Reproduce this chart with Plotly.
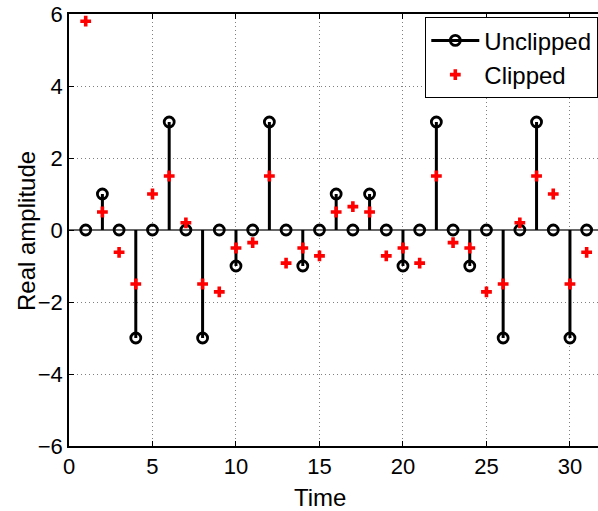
import plotly.graph_objects as go

time = list(range(1, 32))
unclipped = [0, 1, 0, -3, 0, 3, 0, -3, 0, -1, 0, 3, 0, -1, 0, 1,
             0, 1, 0, -1, 0, 3, 0, -1, 0, -3, 0, 3, 0, -3, 0]
clipped = [5.8, 0.5, -0.62, -1.5, 1.0, 1.5, 0.2, -1.5, -1.72, -0.5, -0.35, 1.5,
           -0.92, -0.5, -0.72, 0.5, 0.65, 0.5, -0.72, -0.5, -0.92, 1.5, -0.35, -0.5,
           -1.72, -1.5, 0.2, 1.5, 1.0, -1.5, -0.62]
x_ticks = [0, 5, 10, 15, 20, 25, 30]
y_ticks = [-6, -4, -2, 0, 2, 4, 6]

FONT = "Liberation Sans, Arial, Helvetica, sans-serif"
L, T, B, W, H = 69, 14, 65, 598, 511
PW, PH = W - L, H - T - B

# stems built from data
sx, sy = [], []
for t, v in zip(time, unclipped):
    sx += [t, t, None]
    sy += [0, v, None]

fig = go.Figure()
fig.add_trace(go.Scatter(x=sx, y=sy, mode="lines", line=dict(color="black", width=3),
                         showlegend=False, hoverinfo="skip"))
fig.add_trace(go.Scatter(x=time, y=unclipped, mode="markers",
                         marker=dict(symbol="circle-open", size=10, color="black",
                                     line=dict(width=2.8, color="black")),
                         showlegend=False))
fig.add_trace(go.Scatter(x=[None], y=[None], mode="lines+markers", name="Unclipped",
                         line=dict(color="black", width=3),
                         marker=dict(symbol="circle-open", size=10, color="black",
                                     line=dict(width=2.8, color="black"))))
fig.add_trace(go.Scatter(x=time, y=clipped, mode="markers", name="Clipped",
                         marker=dict(symbol="cross", size=9, color="#ff0000",
                                     line=dict(width=0))))

fig.update_layout(
    width=W, height=H,
    margin=dict(l=L, r=0, t=T, b=B),
    plot_bgcolor="white", paper_bgcolor="white",
    font=dict(family=FONT, size=22, color="black"),
    legend=dict(x=(425 - L) / PW, y=(T + PH - 17) / PH, xanchor="left", yanchor="top",
                bordercolor="black", borderwidth=1.3, bgcolor="white",
                font=dict(size=24), tracegroupgap=0, itemwidth=48),
    xaxis=dict(range=[0, 31.68], tickvals=x_ticks, ticks="inside", ticklen=5,
               tickcolor="black", showline=True, linecolor="black", linewidth=1.5,
               mirror="ticks", showgrid=True, gridcolor="#808080", griddash="1px,3px",
               gridwidth=1, zeroline=False, automargin=False,
               tickfont=dict(size=22)),
    yaxis=dict(range=[-6, 6], tickvals=y_ticks, ticks="inside", ticklen=5,
               tickcolor="black", showline=True, linecolor="black", linewidth=1.5,
               mirror=False, showgrid=True, gridcolor="#808080", griddash="1px,3px",
               gridwidth=1, zeroline=True, zerolinecolor="#666666", zerolinewidth=1.5,
               tickformat="d", automargin=False,
               tickfont=dict(size=22)),
    annotations=[
        dict(text="Time", xref="paper", yref="paper", x=(320 - L) / PW,
             y=-(497 - T - PH) / PH, xanchor="center", yanchor="middle",
             showarrow=False, font=dict(size=24)),
        dict(text="Real amplitude", xref="paper", yref="paper", x=(26 - L) / PW,
             y=(T + PH - 231) / PH, xanchor="center", yanchor="middle",
             textangle=-90, showarrow=False, font=dict(size=24)),
    ],
)

fig.write_html("out.html", config={"displayModeBar": False},
               post_script="document.body.style.margin='0';document.body.style.overflow='hidden';")
